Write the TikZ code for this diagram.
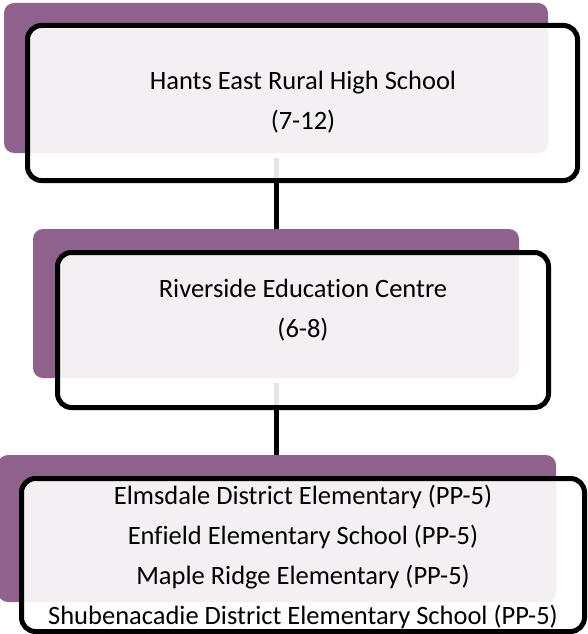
\documentclass[tikz,border=0pt]{standalone}
\usepackage{fontspec}
\setmainfont{Carlito}[Ligatures=NoCommon]
\definecolor{plum}{RGB}{143,98,142}
\tikzset{
  x=1pt, y=-1pt,
  back/.style={fill=plum, draw=none, rounded corners=10pt, inner sep=0pt},
  front/.style={fill=white, fill opacity=0.9, draw=black, draw opacity=1, line width=5pt, rounded corners=14pt, inner sep=0pt},
  label/.style={align=center, text=black, font=\fontsize{26.5}{40}\selectfont, inner sep=0pt},
  link/.style={draw=black, line width=5pt}
}
\begin{document}
\begin{tikzpicture}
\useasboundingbox (0,0) rectangle (587,634);
% back plates
\node[back, minimum width=544pt, minimum height=150pt] (p1) at (276,78) {};
\node[back, minimum width=486pt, minimum height=149pt] (p2) at (276,303.5) {};
\node[back, minimum width=558pt, minimum height=147pt] (p3) at (277,528.5) {};
% connectors
\draw[link] ([yshift=-5pt]p1.south) -- (p2.north);
\draw[link] ([yshift=-5pt]p2.south) -- (p2.south |- p3.north);
% front boxes
\node[front, minimum width=550pt, minimum height=155pt] (f1) at (302.5,103) {};
\node[front, minimum width=491pt, minimum height=155pt] (f2) at (303,330) {};
\node[front, minimum width=563pt, minimum height=153pt] (f3) at (303,555) {};
% texts
\node[label] (t1) at (303,102) {Hants East Rural High School\\(7-12)};
\node[label] (t2) at (303,310) {Riverside Education Centre\\(6-8)};
\node[label] (t3) at (303,556.5) {Elmsdale District Elementary (PP-5)\\Enfield Elementary School (PP-5)\\Maple Ridge Elementary (PP-5)\\Shubenacadie District Elementary School (PP-5)};
\end{tikzpicture}
\end{document}
